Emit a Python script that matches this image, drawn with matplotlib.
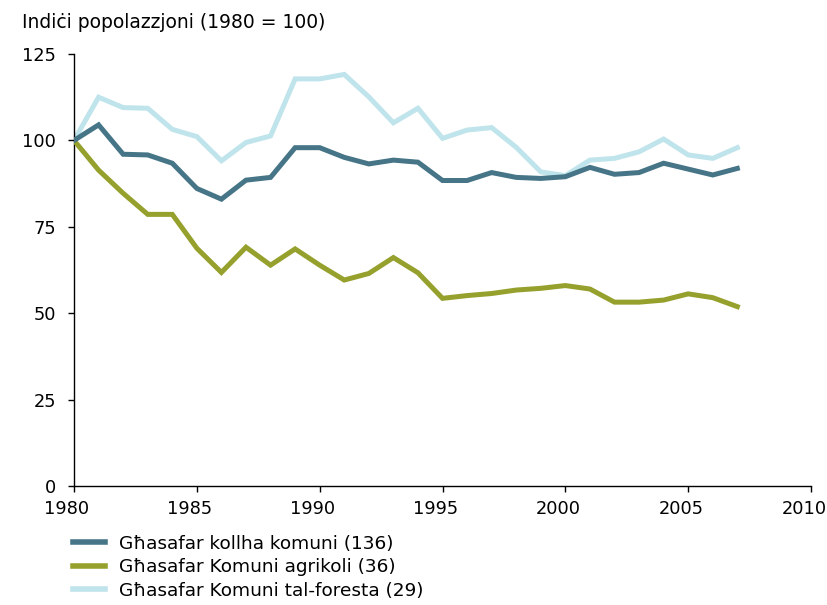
import matplotlib
matplotlib.use("Agg")
import matplotlib.pyplot as plt
import matplotlib.transforms as mtransforms
import numpy as np

# ── Data (index, 1980 = 100) ────────────────────────────────────────────────
years = list(range(1980, 2008))

all_communes = [100.0, 104.5, 96.0, 95.8, 93.4, 86.1, 83.0, 88.5, 89.3, 97.9,
                97.9, 95.1, 93.2, 94.3, 93.7, 88.4, 88.4, 90.7, 89.3, 89.0,
                89.5, 92.2, 90.2, 90.7, 93.4, 91.7, 90.0, 91.9]

agricultural = [100.0, 91.4, 84.7, 78.6, 78.6, 68.8, 61.8, 69.1, 63.9, 68.6,
                63.9, 59.6, 61.5, 66.1, 61.7, 54.3, 55.1, 55.7, 56.7, 57.2,
                58.0, 57.0, 53.2, 53.2, 53.8, 55.6, 54.5, 51.9]

forest = [100.0, 112.5, 109.5, 109.3, 103.2, 101.1, 94.1, 99.4, 101.3, 117.8,
          117.8, 119.1, 112.6, 105.1, 109.3, 100.6, 103.0, 103.7, 98.0, 90.9,
          89.8, 94.3, 94.8, 96.7, 100.4, 95.8, 94.8, 97.9]

labels = ["Għasafar kollha komuni (136)",
          "Għasafar Komuni agrikoli (36)",
          "Għasafar Komuni tal-foresta (29)"]
colors = ["#467587", "#95a12c", "#c0e4eb"]

x_ticks = list(range(1980, 2011, 5))
y_ticks = [0, 25, 50, 75, 100, 125]

# ── Figure ──────────────────────────────────────────────────────────────────
fig = plt.figure(figsize=(8.28, 6.05), dpi=100)
ax = fig.add_axes([0.0894, 0.1967, 0.8901, 0.714])

# draw forest first so the others sit on top
ax.plot(years, forest, color=colors[2], linewidth=3.6, solid_joinstyle="miter",
        label=labels[2], zorder=2)
ax.plot(years, agricultural, color=colors[1], linewidth=3.6, solid_joinstyle="miter",
        label=labels[1], zorder=3)
ax.plot(years, all_communes, color=colors[0], linewidth=3.6, solid_joinstyle="miter",
        label=labels[0], zorder=4)

ax.set_xlim(1980, 2010)
ax.set_ylim(0, 125)
ax.set_xticks(x_ticks)
ax.set_yticks(y_ticks)
ax.tick_params(labelsize=12.8, direction="out", length=4, width=1, colors="black")
ax.tick_params(axis="y", pad=9)
ax.tick_params(axis="x", pad=6)
ax.spines["top"].set_visible(False)
ax.spines["right"].set_visible(False)
for s in ("left", "bottom"):
    ax.spines[s].set_linewidth(1)

# year labels sit slightly left of their ticks in the original
shift = mtransforms.ScaledTranslation(-7 / 100, 0, fig.dpi_scale_trans)
for lbl in ax.get_xticklabels():
    lbl.set_transform(lbl.get_transform() + shift)

fig.text(0.027, 0.962, "Indiċi popolazzjoni (1980 = 100)", fontsize=13.5,
         ha="left", va="center")

handles, labs = ax.get_legend_handles_labels()
order = [2, 1, 0]
leg = fig.legend([handles[i] for i in order], [labs[i] for i in order],
                 loc="upper left", bbox_to_anchor=(0.088, 0.116), frameon=False,
                 fontsize=13.3, handlelength=1.72, handletextpad=0.76,
                 labelspacing=0.3, borderaxespad=0, borderpad=0)
for line in leg.get_lines():
    line.set_linewidth(4)

plt.savefig("out.png", dpi=100)
plt.close()
